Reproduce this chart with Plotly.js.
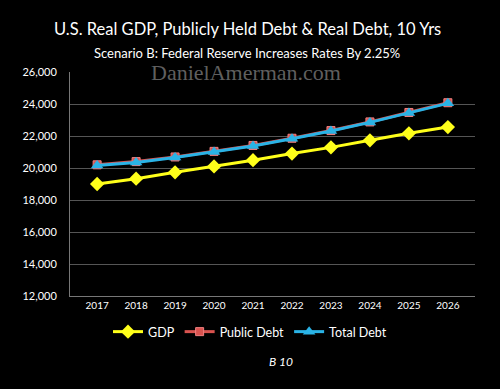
<!DOCTYPE html>
<html>
<head>
<meta charset="utf-8">
<script src="https://cdn.plot.ly/plotly-3.0.1.min.js"></script>
<style>html,body{margin:0;padding:0;background:#000;}#chart{width:500px;height:389px;}</style>
</head>
<body>
<div id="chart"></div>
<script>
var years = ["2017","2018","2019","2020","2021","2022","2023","2024","2025","2026"];
var gdp = [19000, 19330, 19730, 20100, 20490, 20900, 21290, 21730, 22170, 22560];
var publicDebt = [20200, 20400, 20690, 21040, 21410, 21860, 22340, 22880, 23470, 24080];
var totalDebt = [20150, 20350, 20650, 21000, 21370, 21830, 22310, 22850, 23440, 24040];

var font = "Lato, 'Open Sans', sans-serif";

var traces = [
  {x: years, y: gdp, name: "GDP", type: "scatter", mode: "lines+markers",
   line: {color: "#ffff1a", width: 3},
   marker: {symbol: "diamond", size: 11, color: "#ffff1a"}},
  {x: years, y: publicDebt, name: "Public Debt", type: "scatter", mode: "lines+markers",
   line: {color: "#d9534f", width: 3},
   marker: {symbol: "square", size: 8, color: "#d9534f", line: {color: "#f08080", width: 1}}},
  {x: years, y: totalDebt, name: "Total Debt", type: "scatter", mode: "lines+markers",
   line: {color: "#2ab3e6", width: 3},
   marker: {symbol: "triangle-up", size: 11, color: "#2ab3e6"}}
];

var plotH = 389 - 72 - 93;
var plotW = 500 - 70 - 25;
function py(pix) { return (389 - 93 - pix) / plotH; }
function px(pix) { return (pix - 70) / plotW; }

var layout = {
  width: 500, height: 389,
  paper_bgcolor: "#000", plot_bgcolor: "#000",
  margin: {l: 70, r: 25, t: 72, b: 93},
  showlegend: true,
  font: {family: font, color: "#fff"},
  xaxis: {type: "category", showgrid: false, zeroline: false,
    showline: true, linecolor: "#777", linewidth: 1,
    ticks: "", tickfont: {size: 10, color: "#fff", family: font},
    fixedrange: true},
  yaxis: {range: [12000, 26000], dtick: 2000, tickformat: ",d",
    showgrid: true, gridcolor: "#555", gridwidth: 1, zeroline: false,
    showline: true, linecolor: "#777", linewidth: 1,
    ticks: "", tickfont: {size: 11, color: "#fff", family: font},
    ticklabelstandoff: 10, fixedrange: true},
  legend: {orientation: "h", x: px(250), xanchor: "center", y: py(332), yanchor: "middle",
    font: {size: 12.5, color: "#fff", family: font}, bgcolor: "rgba(0,0,0,0)",
    itemwidth: 30},
  annotations: [
    {text: "U.S. Real GDP, Publicly Held Debt &amp; Real Debt, 10 Yrs", xref: "paper", yref: "paper",
     x: px(247), y: py(29), xanchor: "center", yanchor: "middle", showarrow: false,
     font: {size: 16.5, color: "#fff", family: font}},
    {text: "Scenario B: Federal Reserve Increases Rates By 2.25%", showarrow: false,
     xref: "paper", yref: "paper", x: px(247), y: py(53), xanchor: "center", yanchor: "middle",
     font: {size: 13, color: "#fff", family: font}},
    {text: "DanielAmerman.com", showarrow: false, xref: "paper", yref: "paper",
     x: px(246), y: py(72), xanchor: "center", yanchor: "middle",
     font: {size: 22, color: "rgba(160,160,160,0.6)", family: "'Liberation Serif', serif"}},
    {text: "<i>B 10</i>", showarrow: false, xref: "paper", yref: "paper",
     x: px(281), y: py(361), xanchor: "center", yanchor: "middle",
     font: {size: 12, color: "#fff", family: font}}
  ]
};

Plotly.newPlot("chart", traces, layout, {displayModeBar: false, staticPlot: true});
</script>
</body>
</html>
